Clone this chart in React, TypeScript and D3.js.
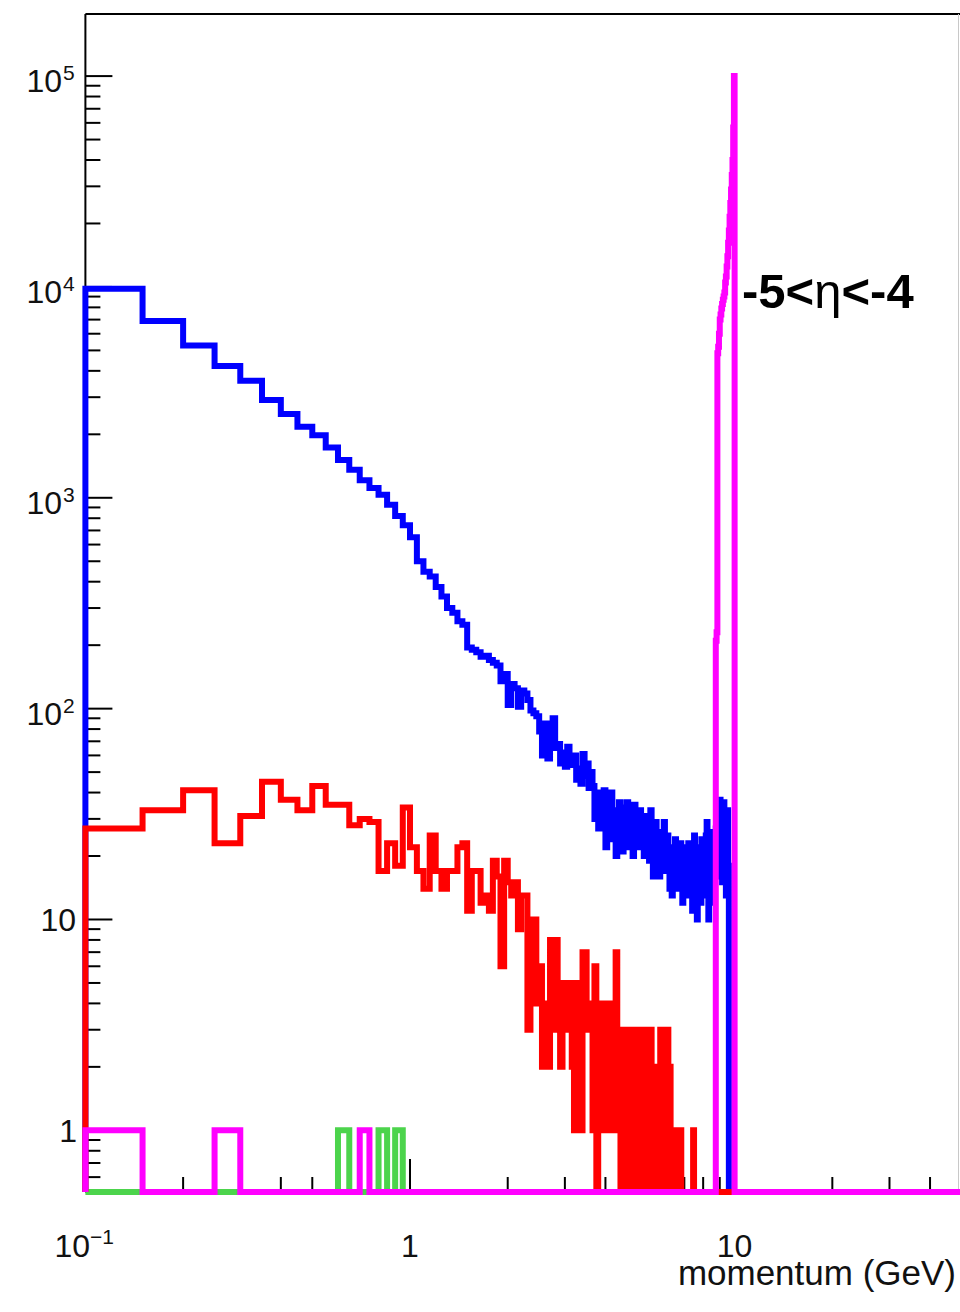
import React from "react";
import * as d3 from "d3";

// histogram binning: fixed 0.05 GeV bins, first bin starts at the axis minimum
const binWidth = 0.05;
const firstEdge = 0.1;

// counts per bin, starting at 0.10 GeV
const blueCounts = [
  9800, 6900, 5280, 4220, 3590, 2910, 2500, 2170, 1980, 1730,
  1510, 1360, 1210, 1114, 1033, 927, 820, 740, 650, 500,
  446, 423, 378, 340, 300, 285, 260, 250, 195, 190,
  185, 176, 178, 170, 165, 160, 135, 146, 104, 131,
  125, 102, 122, 118, 110, 98, 95, 92, 78, 60,
  85, 58, 72, 90, 65, 68, 55, 62, 53, 66,
  58, 54, 60, 46, 52, 44, 61, 48, 55, 42,
  50, 43, 30, 40, 27, 36, 32, 41, 22, 35,
  28, 40, 24, 33, 20, 30, 36, 26, 21, 34,
  29, 36, 22, 31, 26, 20, 35, 27, 30, 22,
  33, 25, 28, 20, 31, 24, 27, 19, 33, 22,
  16, 25, 29, 18, 23, 16, 26, 20, 24, 29,
  17, 21, 25, 18, 14, 22, 13, 20, 16, 24,
  14, 19, 21, 15, 23, 17, 12, 20, 16, 22,
  14, 18, 23, 13, 19, 16, 11, 21, 25, 15,
  18, 10, 22, 14, 19, 12, 24, 16, 20, 13,
  17, 25, 29, 14, 10, 22, 18, 26, 12, 20,
  15, 24, 18, 27, 21, 30, 16, 25, 37, 20,
  34, 15, 28, 36, 22, 31, 13, 26, 33, 18,
];

const redCounts = [
  27, 33, 41, 23, 31, 45, 37, 33, 43, 35,
  35, 28, 30, 29, 17, 23, 18, 34, 22, 17,
  14, 25, 17, 14, 17, 17, 22, 23, 11, 17,
  17, 12, 13, 11, 19, 16, 6, 19, 15, 13,
  15, 9, 13, 13, 3, 10, 10, 4, 6, 2,
  4, 2, 8, 3, 8, 5, 2, 5, 3, 5,
  5, 2, 1, 5, 4, 1, 7, 7, 3, 4,
  3, 1, 6, 0, 3, 1, 4, 2, 1, 4,
  4, 1, 3, 2, 7, 1, 3, 0, 2, 3,
  1, 0, 2, 3, 1, 0, 2, 1, 3, 0,
  1, 2, 0, 3, 1, 2, 0, 1, 3, 2,
  0, 1, 2, 0, 2, 1, 3, 0, 2, 1,
  2, 0, 3, 1, 2, 1, 1, 0, 1, 1,
  0, 1, 1, 0, 1, 0, 0, 0, 0, 0,
  0, 0, 0, 0, 0, 0, 0, 1,
];

// sparse series: [bin low edge (GeV), count]
const greenCounts: [number, number][] = [
  [0.6, 1], [0.8, 1], [0.9, 1],
];

const magentaCounts: [number, number][] = [
  [0.1, 1], [0.25, 1], [0.7, 1],
  [8.75, 210], [8.8, 230], [8.85, 4850], [8.9, 5200], [8.95, 6000],
  [9.0, 7000], [9.05, 7400], [9.1, 7900], [9.15, 8300], [9.2, 8700],
  [9.25, 9000], [9.3, 9400], [9.35, 10500], [9.4, 11200], [9.45, 12500],
  [9.5, 14000], [9.55, 16200], [9.6, 18500], [9.65, 21500], [9.7, 25000],
  [9.75, 29000], [9.8, 34000], [9.85, 40000], [9.9, 57000], [9.95, 100000],
];

const lastEdge = 10.0;

const xMajor = [0.1, 1, 10];
const yMajor = [1, 10, 100, 1000, 10000, 100000];

const W = 960;
const H = 1312;
const left = 85.4;
const top = 14;
const bottom = 1192;

const x = d3.scaleLog().domain([0.1, 50]).range([left, 961.5]);
const y = d3.scaleLog().domain([0.51, 1.97e5]).range([bottom, top]);
const yMin = 0.51;

const nBins = Math.round((lastEdge - firstEdge) / binWidth);

function denseFrom(arr: number[]) {
  const out: number[] = [];
  for (let i = 0; i < nBins; i++) out.push(i < arr.length ? arr[i] : 0);
  return out;
}

function denseFromSparse(pairs: [number, number][]) {
  const out: number[] = [];
  for (let i = 0; i < nBins; i++) out.push(0);
  pairs.forEach(([lo, v]) => {
    out[Math.round((lo - firstEdge) / binWidth)] = v;
  });
  return out;
}

const line = d3
  .line<[number, number]>()
  .x(d => x(d[0]))
  .y(d => (d[1] > yMin ? y(d[1]) : y(yMin)))
  .curve(d3.curveStepAfter);

function histPath(counts: number[]) {
  const pts: [number, number][] = [[firstEdge, 0]];
  counts.forEach((v, i) => pts.push([firstEdge + i * binWidth, v]));
  pts.push([lastEdge, 0]);
  pts.push([50, 0]);
  return line(pts) || "";
}

const series = [
  { name: "blue", color: "#0000ff", counts: denseFrom(blueCounts) },
  { name: "green", color: "#4cd44c", counts: denseFromSparse(greenCounts) },
  { name: "red", color: "#ff0000", counts: denseFrom(redCounts) },
  { name: "magenta", color: "#ff00ff", counts: denseFromSparse(magentaCounts) },
];

function minorTicks(lo: number, hi: number) {
  const t: number[] = [];
  for (let e = -2; e <= 6; e++) {
    for (let k = 2; k <= 9; k++) {
      const v = k * Math.pow(10, e);
      if (v > lo && v < hi) t.push(v);
    }
  }
  return t;
}

const font = "'Liberation Sans', Arial, Helvetica, sans-serif";

export default function App() {
  const [y0, y1] = y.domain();
  const [x0, x1] = x.domain();
  return (
    <svg width={W} height={H} style={{ display: "block", position: "absolute", left: 0, top: 0, background: "#fff" }}>
      <rect x={0} y={0} width={W} height={H} fill="#fff" />
      {/* frame */}
      <line x1={left} x2={W} y1={top} y2={top} stroke="#000" strokeWidth={2} />
      <line x1={left} x2={left} y1={top} y2={bottom} stroke="#000" strokeWidth={2} />
      <line x1={left} x2={W} y1={bottom} y2={bottom} stroke="#000" strokeWidth={2} />
      <line x1={958.5} x2={958.5} y1={top} y2={bottom} stroke="#c8c8c8" strokeWidth={1} />

      {/* y ticks */}
      {yMajor.map(v => (
        <line key={"ym" + v} x1={left} x2={left + 27} y1={y(v)} y2={y(v)} stroke="#000" strokeWidth={2} />
      ))}
      {minorTicks(y0, y1).map(v => (
        <line key={"yn" + v} x1={left} x2={left + 15} y1={y(v)} y2={y(v)} stroke="#000" strokeWidth={2} />
      ))}
      {/* x ticks */}
      {xMajor.map(v => (
        <line key={"xm" + v} x1={x(v)} x2={x(v)} y1={bottom} y2={bottom - 33} stroke="#000" strokeWidth={2} />
      ))}
      {minorTicks(x0, x1).map(v => (
        <line key={"xn" + v} x1={x(v)} x2={x(v)} y1={bottom} y2={bottom - 15} stroke="#000" strokeWidth={2} />
      ))}

      {/* histograms */}
      {series.map(s => (
        <path key={s.name} d={histPath(s.counts)} fill="none" stroke={s.color} strokeWidth={6} strokeLinejoin="miter" strokeLinecap="butt" />
      ))}

      {/* y labels */}
      <g fontFamily={font} fill="#111">
        {yMajor.map(v => {
          const e = Math.round(Math.log10(v));
          const ty = y(v);
          if (e === 0) return <text key={"yl" + v} x={77} y={ty + 12} fontSize={32} textAnchor="end">1</text>;
          if (e === 1) return <text key={"yl" + v} x={76} y={ty + 12} fontSize={32} textAnchor="end">10</text>;
          return (
            <g key={"yl" + v}>
              <text x={62} y={ty + 16} fontSize={32} textAnchor="end">10</text>
              <text x={63} y={ty + 4} fontSize={21} textAnchor="start">{e}</text>
            </g>
          );
        })}
        {/* x labels */}
        <text x={90} y={1257} fontSize={32} textAnchor="end">10</text>
        <text x={90} y={1244} fontSize={21} textAnchor="start">{"\u22121"}</text>
        <text x={x(1)} y={1257} fontSize={32} textAnchor="middle">1</text>
        <text x={x(10)} y={1257} fontSize={32} textAnchor="middle">10</text>
        <text x={956} y={1285} fontSize={35} textAnchor="end">momentum (GeV)</text>
      </g>

      <text x={742} y={308} fontFamily={font} fontSize={49} fontWeight="bold" fill="#000">
        {"-5<"}
        <tspan fontWeight="normal">η</tspan>
        {"<-4"}
      </text>
    </svg>
  );
}
